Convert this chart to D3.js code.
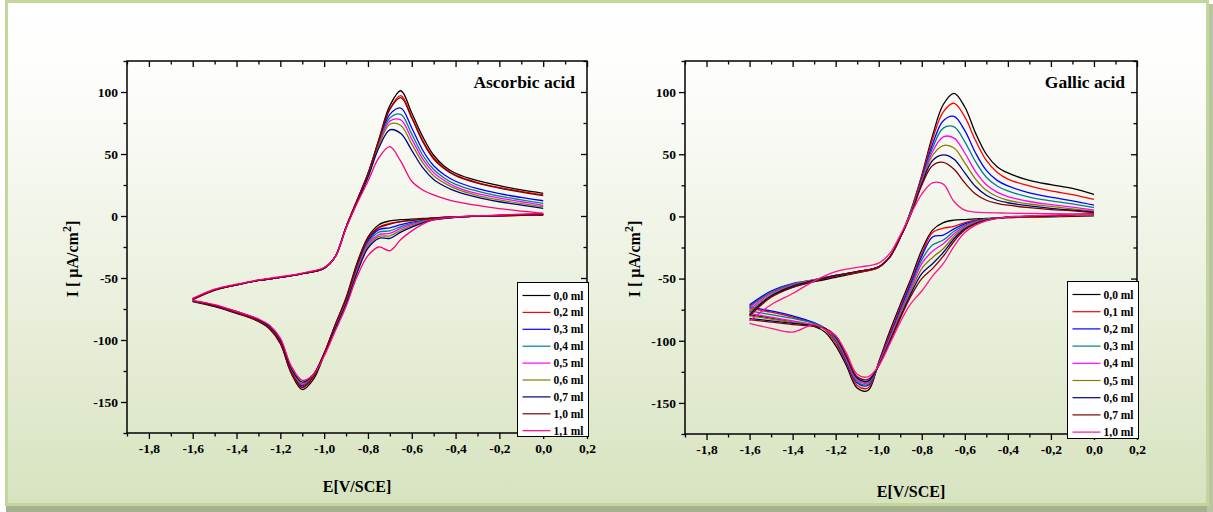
<!DOCTYPE html>
<html>
<head>
<meta charset="utf-8">
<script src="https://cdn.jsdelivr.net/npm/d3@7"></script>
<style>
  html, body { margin: 0; padding: 0; background: #ffffff; }
  svg { display: block; }
  text { font-family: "Liberation Serif", "Times New Roman", serif; font-weight: bold; fill: #000; }
</style>
</head>
<body>
<svg id="chart" width="1213" height="512"></svg>
<script>
// Potential grids (V vs SCE) for the two scan directions
const E_CATHODIC = [0, -0.1, -0.2, -0.3, -0.4, -0.5, -0.55, -0.6, -0.65, -0.7, -0.75, -0.8, -0.85, -0.9,
  -0.95, -1.0, -1.05, -1.1, -1.15, -1.2, -1.25, -1.3, -1.4, -1.5, -1.6];
const E_ANODIC = [-1.6, -1.5, -1.4, -1.3, -1.2, -1.1, -1.0, -0.95, -0.9, -0.85, -0.8, -0.75, -0.7, -0.65,
  -0.6, -0.55, -0.5, -0.45, -0.4, -0.3, -0.2, -0.1, 0];

// Axis ticks
const X_MAJOR = [-1.8, -1.6, -1.4, -1.2, -1.0, -0.8, -0.6, -0.4, -0.2, 0.0, 0.2];
const X_MINOR = [-1.9, -1.7, -1.5, -1.3, -1.1, -0.9, -0.7, -0.5, -0.3, -0.1, 0.1];
const Y_MAJOR = [-150, -100, -50, 0, 50, 100];
const Y_MINOR = [-175, -125, -75, -25, 25, 75, 125];

// Ascorbic acid additions
const ASCORBIC_LABELS = ["0,0 ml", "0,2 ml", "0,3 ml", "0,4 ml", "0,5 ml", "0,6 ml", "0,7 ml", "1,0 ml", "1,1 ml"];
const ASCORBIC_COLORS = ["#000000", "#ff0000", "#0000ff", "#008080", "#ff00ff", "#808000", "#000080", "#800000", "#ff0080"];
const ASCORBIC_CATHODIC = [
  [0.8, 0.5, 0.2, -0.2, -0.6, -1.5, -2, -2.5, -3, -4, -7, -17, -38, -66, -88, -112, -132, -140, -127, -103, -91, -85, -78.5, -73, -69],
  [1, 0.6, 0.2, -0.2, -0.7, -1.8, -2.6, -3.5, -4.5, -6, -9, -18, -40, -67, -88, -111, -130, -138.5, -126, -102, -90.5, -84.5, -78, -72.5, -68.5],
  [1.2, 0.8, 0.3, -0.2, -0.8, -2.2, -3.5, -5, -7, -9.5, -11, -20, -42, -68, -89, -111, -129, -137, -125, -101.5, -90, -84, -78, -72.5, -68.5],
  [1.3, 0.8, 0.3, -0.2, -0.9, -2.5, -4, -6, -8.5, -12, -13, -21.5, -43, -69, -89, -111, -129, -136, -124.5, -101, -90, -84, -77.5, -72, -68.5],
  [1.4, 0.9, 0.4, -0.2, -1, -2.8, -4.5, -7, -10, -14, -15, -23, -44, -69.5, -90, -111, -128.5, -135.5, -124, -101, -89.5, -84, -77.5, -72, -68.5],
  [1.5, 1, 0.4, -0.2, -1, -3, -5, -8, -11.5, -16, -16.5, -24.5, -45, -70, -90, -111, -128, -135, -123.5, -100.5, -89.5, -83.5, -77.5, -72, -68.5],
  [1.6, 1, 0.4, -0.2, -1.1, -3.2, -5.5, -9, -13, -18, -18, -26, -46, -71, -91, -111, -128, -134, -123, -100, -89, -83.5, -77, -72, -68.5],
  [1, 0.6, 0.2, -0.2, -0.7, -1.8, -2.6, -3.5, -4.5, -6.5, -9.5, -18.5, -40, -67, -88, -111, -130, -138, -126, -102, -90.5, -84.5, -78, -72.5, -68.5],
  [2.2, 1.5, 0.8, 0.2, -0.8, -3, -6.5, -12, -19, -28, -25, -32, -49, -73, -93, -113, -128, -132.5, -121, -98.5, -88, -83, -77, -71.5, -68]
];
const ASCORBIC_ANODIC = [
  [-67, -59.5, -55.5, -52, -49.5, -46.5, -42, -33, -9, 12.5, 34, 62, 89, 101, 83, 64, 49, 40, 34.5, 28.5, 24.5, 21, 18.3],
  [-67, -59.5, -55.5, -52, -49.5, -46.5, -42, -33, -9, 12.5, 34, 61, 86.5, 97, 80, 61, 47, 38.5, 33, 27, 23, 19.8, 17],
  [-67, -59.5, -55.5, -52, -49.5, -46.5, -42, -33, -9, 12, 33, 60, 82, 87, 71, 53, 40.5, 33, 28, 22, 18, 15, 12.3],
  [-67, -59.5, -55.5, -52, -49.5, -46.5, -42, -33, -9, 12, 33, 59, 79, 82, 66, 49, 37.5, 30.5, 25.5, 20, 16, 13, 10.2],
  [-67, -59.5, -55.5, -52, -49.5, -46.5, -42, -33, -9, 12, 33, 58, 76.5, 77.5, 62, 46, 35, 28.5, 23.5, 18, 14.5, 11.5, 8.6],
  [-67, -59.5, -55.5, -52, -49.5, -46.5, -42, -33, -9.5, 11.5, 32, 57, 74, 73, 58, 43, 32.5, 26.5, 22, 16.5, 13, 10, 7.5],
  [-67, -59.5, -55.5, -52, -49.5, -46.5, -42, -33, -9.5, 11, 31, 55, 69.5, 66.5, 53, 39, 29.5, 24, 20, 15, 11.5, 8.8, 6.2],
  [-67.5, -60, -55.5, -52, -49.5, -46.5, -42, -33, -9, 12.5, 34, 61, 86, 95.5, 79, 60, 46, 38, 32.5, 26.5, 22.5, 19.3, 16.5],
  [-66.5, -59, -55, -51.5, -49, -46, -41.5, -33, -10, 10, 28, 47, 56, 44, 28, 21, 17, 14, 11.5, 8.5, 6, 4, 2.2]
];

// Gallic acid additions
const GALLIC_LABELS = ["0,0 ml", "0,1 ml", "0,2 ml", "0,3 ml", "0,4 ml", "0,5 ml", "0,6 ml", "0,7 ml", "1,0 ml"];
const GALLIC_COLORS = ["#000000", "#ff0000", "#0000ff", "#008080", "#ff00ff", "#808000", "#000080", "#800000", "#ff1493"];
const GALLIC_CATHODIC = [
  [0.5, 0, -0.3, -0.6, -1, -1.5, -2, -2.5, -3, -5, -11, -27, -50, -71, -93, -117, -140, -138, -120, -104, -93, -88.5, -85, -82, -79],
  [1, 0.5, 0, -0.5, -1, -2, -3, -5, -8, -9.5, -13, -30, -52, -73, -95, -118, -138, -136, -118, -102, -91, -86, -81, -77, -74],
  [1.5, 1, 0.5, 0, -0.5, -2, -3.5, -6, -10, -15, -16.5, -32, -54, -75, -97, -119, -136, -134, -117, -100, -90, -85.5, -80, -76, -73],
  [1.5, 1, 0.5, 0, -0.5, -2, -4, -7, -12, -19, -23, -35, -56, -77, -98, -119, -135, -133, -116, -99, -90, -86, -82, -79, -76],
  [1.5, 1, 0.5, 0, -0.5, -2.5, -4.5, -8, -14, -22, -28, -38, -58, -78, -99, -119, -134, -132, -115, -98, -90, -87, -84, -81, -78],
  [1.5, 1, 0.5, 0, -0.5, -2.5, -5, -9, -16, -26, -33, -42, -60, -79, -100, -120, -133, -131, -114, -98, -90, -87.5, -85, -82.5, -80],
  [2, 1.5, 0.5, 0, -0.5, -3, -5.5, -10, -18, -29, -38, -46, -62, -81, -101, -120, -132.5, -130, -113, -97, -90, -88, -86, -84, -82],
  [2, 1.5, 0.5, 0, -0.5, -3, -6, -11, -20, -32, -42, -50, -64, -82, -102, -120, -131, -129, -112, -96, -90, -88.5, -87, -85, -83],
  [2, 1.5, 1, 0.5, -0.5, -3.5, -7, -13, -24, -38, -48, -60, -70, -85, -103, -120, -129, -127, -110, -96, -91, -87, -93, -90, -86]
];
const GALLIC_ANODIC = [
  [-77, -64, -57, -52.5, -49, -45.5, -41, -33, -17, 5, 33, 65, 90, 99, 88, 67, 50, 40, 35, 29, 25.5, 22.5, 17.7],
  [-72, -61, -55, -51.5, -48, -45, -41, -33, -17, 5, 32, 62, 84, 91, 80, 61, 45, 35.5, 30, 24.5, 20.5, 17.5, 13.7],
  [-71, -60, -54, -51, -47.5, -44.5, -40.5, -33, -17, 4, 30, 58, 77, 80.5, 69, 51, 37, 29, 24.5, 19, 15.5, 12.5, 9.1],
  [-73, -61, -54.5, -51, -47.5, -44.5, -40.5, -33, -17, 4, 29, 55, 71, 72, 60, 44, 31.5, 24.5, 20.5, 15.5, 12.5, 10, 7],
  [-75, -62, -55, -51, -47.5, -44.5, -40.5, -33, -17, 3, 28, 52, 64, 63, 51, 36, 25.5, 19.5, 16, 12, 9.5, 7.5, 5.1],
  [-77, -63, -55.5, -51, -47.5, -44.5, -40.5, -33, -17, 3, 27, 49, 57, 55, 43, 30, 21, 16, 13, 10, 8, 6, 4.3],
  [-79, -64, -56, -51.5, -47.5, -44.5, -40.5, -33, -17, 2, 26, 45, 49.5, 46, 35, 24, 17, 13, 11, 8.5, 6.5, 5, 3.5],
  [-80, -65, -57, -52, -48, -44.5, -40.5, -33, -17, 2, 25, 41, 43.5, 38, 27, 18, 13, 10.5, 9, 7, 5.5, 4.5, 3],
  [-84, -71, -62, -52, -44.5, -41, -37.5, -30, -15, 2, 18, 27, 26, 12, 5, 3.5, 3, 2.8, 2.6, 2.4, 2.2, 2, 1.6]
];

const svg = d3.select("#chart");

// Page background: soft white-to-green panel with a light border and a bottom shadow
const defs = svg.append("defs");
const grad = defs.append("linearGradient").attr("id", "panelFill")
  .attr("x1", 0).attr("y1", 0).attr("x2", 0).attr("y2", 1);
grad.append("stop").attr("offset", "0").attr("stop-color", "#ffffff");
grad.append("stop").attr("offset", "0.12").attr("stop-color", "#fefefd");
grad.append("stop").attr("offset", "0.5").attr("stop-color", "#eef3e4");
grad.append("stop").attr("offset", "1").attr("stop-color", "#d7e3bf");

svg.append("rect").attr("x", 0).attr("y", 0).attr("width", 1213).attr("height", 512).attr("fill", "#ffffff");
svg.append("rect").attr("x", 6).attr("y", 505).attr("width", 1207).attr("height", 7).attr("fill", "#a6b190");
svg.append("rect").attr("x", 1207).attr("y", 4).attr("width", 6).attr("height", 508).attr("fill", "#b9c4a3");
svg.append("rect").attr("x", 6.5).attr("y", 1.5).attr("width", 1201).attr("height", 503)
  .attr("fill", "url(#panelFill)").attr("stroke", "#c3d69b").attr("stroke-width", 3);

const fmtX = d => (Math.abs(d) < 1e-9 ? 0 : d).toFixed(1).replace(".", ",");
const fmtY = d => String(d);

function drawPanel(cfg) {
  const g = svg.append("g");
  const x = d3.scaleLinear().domain([-1.9, 0.2]).range([cfg.left, cfg.right]);
  const y = d3.scaleLinear().domain([-175, 125]).range([cfg.bottom, cfg.top]);
  const line = d3.line().x(d => x(d[0])).y(d => y(d[1])).curve(d3.curveCatmullRom.alpha(0.5));

  // voltammograms: cathodic sweep then anodic sweep for each addition
  cfg.cathodic.forEach((row, i) => {
    const down = E_CATHODIC.map((e, j) => [e, row[j]]);
    const up = E_ANODIC.map((e, j) => [e, cfg.anodic[i][j]]);
    g.append("path")
      .attr("d", line(down) + line(up))
      .attr("fill", "none")
      .attr("stroke", cfg.colors[i])
      .attr("stroke-width", 1.3);
  });

  const styleAxis = sel => {
    sel.select(".domain").remove();
    sel.selectAll(".tick line").attr("stroke", "#000").attr("stroke-width", 1.3);
    sel.selectAll(".tick text").style("font-size", "13.5px").attr("fill", "#000");
  };

  // bottom axis with labels (outward ticks)
  g.append("g").attr("transform", `translate(0,${cfg.bottom})`)
    .call(d3.axisBottom(x).tickValues(X_MAJOR).tickSize(6).tickPadding(4).tickFormat(fmtX)).call(styleAxis);
  g.append("g").attr("transform", `translate(0,${cfg.bottom})`)
    .call(d3.axisBottom(x).tickValues(X_MINOR).tickSize(3.5).tickFormat("")).call(styleAxis);
  // top axis (inward ticks)
  g.append("g").attr("transform", `translate(0,${cfg.top})`)
    .call(d3.axisTop(x).tickValues(X_MAJOR).tickSize(-6).tickFormat("")).call(styleAxis);
  g.append("g").attr("transform", `translate(0,${cfg.top})`)
    .call(d3.axisTop(x).tickValues(X_MINOR).tickSize(-3.5).tickFormat("")).call(styleAxis);
  // left axis with labels (outward ticks)
  g.append("g").attr("transform", `translate(${cfg.left},0)`)
    .call(d3.axisLeft(y).tickValues(Y_MAJOR).tickSize(6).tickPadding(3).tickFormat(fmtY)).call(styleAxis);
  g.append("g").attr("transform", `translate(${cfg.left},0)`)
    .call(d3.axisLeft(y).tickValues(Y_MINOR).tickSize(3.5).tickFormat("")).call(styleAxis);
  // right axis (inward ticks)
  g.append("g").attr("transform", `translate(${cfg.right},0)`)
    .call(d3.axisRight(y).tickValues(Y_MAJOR).tickSize(-6).tickFormat("")).call(styleAxis);
  g.append("g").attr("transform", `translate(${cfg.right},0)`)
    .call(d3.axisRight(y).tickValues(Y_MINOR).tickSize(-3.5).tickFormat("")).call(styleAxis);

  // frame
  g.append("rect")
    .attr("x", cfg.left).attr("y", cfg.top)
    .attr("width", cfg.right - cfg.left).attr("height", cfg.bottom - cfg.top)
    .attr("fill", "none").attr("stroke", "#000").attr("stroke-width", 1.5);

  // panel title
  g.append("text").attr("x", cfg.right - 12).attr("y", 88)
    .attr("text-anchor", "end").style("font-size", "17.5px").text(cfg.title);

  // axis titles
  g.append("text").attr("x", (cfg.left + cfg.right) / 2).attr("y", cfg.xTitleY)
    .attr("text-anchor", "middle").style("font-size", "16px").text("E[V/SCE]");
  const yt = g.append("text")
    .attr("transform", `translate(${cfg.yTitleX},259) rotate(-90)`)
    .attr("text-anchor", "middle").style("font-size", "16px");
  yt.append("tspan").text("I [ µA/cm");
  yt.append("tspan").attr("dy", -7).style("font-size", "12px").text("2");
  yt.append("tspan").attr("dy", 7).text("]");

  // legend
  const L = cfg.legend;
  const lg = g.append("g");
  lg.append("rect").attr("x", L.x).attr("y", L.y).attr("width", L.w).attr("height", L.h)
    .attr("fill", "#ffffff").attr("stroke", "#000").attr("stroke-width", 1);
  cfg.labels.forEach((lab, i) => {
    const ry = L.y + 13 + i * L.step;
    lg.append("line").attr("x1", L.x + 5).attr("x2", L.x + 33).attr("y1", ry).attr("y2", ry)
      .attr("stroke", cfg.colors[i]).attr("stroke-width", 1.2);
    lg.append("text").attr("x", L.x + 36).attr("y", ry + 4)
      .style("font-size", "11.5px").text(lab);
  });
}

drawPanel({
  left: 127, right: 587, top: 61, bottom: 433,
  title: "Ascorbic acid", xTitleY: 492, yTitleX: 78,
  labels: ASCORBIC_LABELS, colors: ASCORBIC_COLORS,
  cathodic: ASCORBIC_CATHODIC, anodic: ASCORBIC_ANODIC,
  legend: { x: 517.5, y: 282.5, w: 71, h: 154, step: 16.9 }
});

drawPanel({
  left: 685, right: 1137, top: 61, bottom: 434,
  title: "Gallic acid", xTitleY: 497, yTitleX: 640,
  labels: GALLIC_LABELS, colors: GALLIC_COLORS,
  cathodic: GALLIC_CATHODIC, anodic: GALLIC_ANODIC,
  legend: { x: 1067.5, y: 281.5, w: 71, h: 157, step: 17.2 }
});
</script>
</body>
</html>
